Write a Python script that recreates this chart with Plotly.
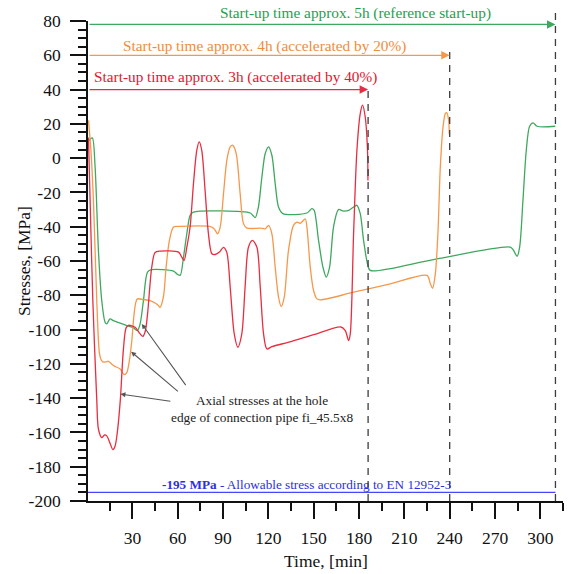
import plotly.graph_objects as go

# Axial stress at the hole edge of connection pipe fi_45.5x8 during three start-up variants
t_3h = [0.9, 2.0, 3.8, 6.4, 7.5, 9.7, 11.5, 13.0, 15.5, 17.0, 18.5, 20.0, 22.0, 24.0, 25.8, 27.4,
        31.8, 35.1, 36.9, 38.5, 40.0, 42.8, 45.0, 48.3, 60.5, 62.7, 64.2, 66.0, 68.2, 70.4,
        72.6, 74.2, 75.9, 78.1, 80.3, 82.6, 84.8, 87.6, 90.3, 92.5, 94.7, 97.4, 99.8, 102.4,
        104.6, 106.8, 109.5, 112.4, 114.6, 116.8, 119.0, 122.3, 135.0, 150.0, 168.0, 170.9,
        173.1, 174.2, 176.4, 178.6, 180.8, 182.3, 184.1, 185.6, 185.9]
s_3h = [12, -25, -83, -141, -158, -163, -161.5, -162, -167, -170, -168, -160, -141, -112, -99, -97.5,
        -98.7, -102.5, -104, -101, -91, -63.6, -55, -54.2, -54.8, -57.8, -59.7, -52, -40, -15,
        4.6, 9.5, 4.6, -18.8, -44, -55.8, -56.2, -54.8, -52, -55, -75, -102.5, -110.3, -102.5,
        -75, -52, -48, -52, -75, -102.5, -111.3, -110, -107, -103, -98.5, -100.6,
        -106.4, -102.5, -44, 4.6, 26, 30.9, 24, 4.6, -13]

t_4h = [0.9, 2.5, 4.2, 6.4, 8.2, 9.5, 10.8, 12.5, 14.1, 17.4, 21.9, 24.5, 26.3, 28.0, 29.6, 31.1,
        32.3, 33.3, 37.3, 41.7, 45.0, 47.2, 48.3, 50.5, 52.3, 54.5, 57.2, 61.6, 82.6, 84.8, 86.3,
        88.1, 90.3, 92.5, 94.7, 96.5, 98.7, 101.3, 103.5, 105.8, 114.6, 117.9, 120.1, 122.3,
        124.5, 126.7, 128.5, 130.5, 133.3, 136.6, 138.9, 141.1, 144.4, 145.5, 147.7, 149.9,
        152.1, 154.3, 176.4, 200.0, 225.0, 227.2, 228.7, 230.5, 232.2, 233.8, 235.6, 237.1,
        238.0, 239.3, 239.7]
s_4h = [22, 5, -24.6, -83, -114, -118, -119, -118.8, -118.5, -121, -123, -126.3, -125, -118, -106.4, -90.8,
        -84, -82.1, -82.5, -83.1, -84.5, -86, -87, -81, -63.6, -48, -40.2, -39.8, -40.2, -42.1, -44.1,
        -40.2, -20.7, -1.2, 6.6, 7.5, 2.7, -20.7, -38.2, -40.8, -40.8, -41.2, -39.2, -44.1,
        -63.6, -81.1, -86.6, -81.1, -53.8, -39.2, -37.3, -38, -35.5, -40.2, -63.6, -77.2,
        -82.1, -82.7, -78.2, -73.5, -68.4, -73.3, -75.9, -67.5, -44.1, -5.2, 18.2, 26,
        26.5, 22.1, 14]

t_5h = [0.9, 2.0, 3.5, 5.3, 7.5, 9.7, 11.9, 13.0, 15.2, 17.4, 21.9, 26.3, 30.7, 33.3, 35.1, 37.3,
        40.0, 42.8, 57.2, 59.4, 61.6, 63.8, 66.0, 68.2, 70.4, 108.0, 109.7, 111.3, 113.4, 115.7,
        117.9, 120.1, 122.3, 124.5, 126.7, 129.6, 145.5, 148.8, 150.3, 153.2, 156.1, 158.3,
        160.5, 163.1, 166.4, 169.7, 173.1, 176.4, 178.6, 180.8, 183.0, 185.6, 187.4, 230.0,
        280.1, 282.3, 284.6, 286.3, 288.5, 290.7, 292.9, 295.2, 297.8, 309.9]
s_5h = [10, 11, 11.8, -5.2, -53.8, -83.1, -95.7, -96.7, -93.8, -94.8, -96.3, -97.7, -99, -100.6, -96.7, -83.1,
        -66.5, -65.1, -65.9, -67.5, -68.4, -57.8, -44.1, -33.4, -31.5, -32, -33.4, -34.7, -28.5, -11,
        2.7, 6.6, 1.7, -14.9, -28.5, -32.4, -32, -29.5, -30.5, -48, -63.6, -69.4,
        -63.6, -40.2, -30, -30.9, -30.5, -28.5, -27.5, -32.4, -48, -61.6, -65.5, -59,
        -51.9, -53.8, -57.3, -51.9, -24.6, 4.6, 18.6, 20.6, 18.6, 18.6]

# Start-up variants: duration [min], arrow level [MPa], caption
startup_end = [186, 240, 310]
startup_level = [40, 60, 78]
startup_top = [42, 62, 85]
startup_text = ["Start-up time approx. 3h (accelerated by 40%)",
                "Start-up time approx. 4h (accelerated by 20%)",
                "Start-up time approx. 5h (reference start-up)"]

allowable_stress = -195
x_ticks = [30, 60, 90, 120, 150, 180, 210, 240, 270, 300]
y_ticks = list(range(-200, 81, 20))
y_tick_text = [str(v) for v in y_ticks]

X_MIN, X_MAX = 0.6, 315
Y_MIN, Y_MAX = -200, 80

line_col = ["rgb(232,45,65)", "rgb(246,152,75)", "rgb(62,168,95)"]
text_col = ["rgb(230,20,45)", "rgb(240,140,60)", "rgb(35,160,80)"]
FONT = "Liberation Serif, Times New Roman, serif"


def to_paper(v):
    return (v - Y_MIN) / (Y_MAX - Y_MIN)


fig = go.Figure()
for t, s, c in zip([t_5h, t_4h, t_3h], [s_5h, s_4h, s_3h], line_col[::-1]):
    fig.add_trace(go.Scatter(x=t, y=s, mode="lines",
                             line=dict(color=c, width=1.3, shape="spline", smoothing=0.8),
                             showlegend=False, hoverinfo="skip"))

# allowable stress limit
fig.add_shape(type="line", xref="x", yref="y", x0=X_MIN, x1=startup_end[-1],
              y0=allowable_stress, y1=allowable_stress, line=dict(color="rgb(70,70,255)", width=1.2))

annotations = []
for end, lvl, top, lc in zip(startup_end, startup_level, startup_top, line_col):
    fig.add_shape(type="line", xref="x", yref="paper", x0=end, x1=end,
                  y0=0, y1=to_paper(top),
                  line=dict(color="rgb(60,60,60)", width=1.3, dash="7px,6px"))
    annotations.append(dict(x=end, y=lvl, ax=X_MIN, ay=lvl, xref="x", yref="y",
                            axref="x", ayref="y", text="", showarrow=True,
                            arrowhead=2, arrowsize=1.3, arrowwidth=1.3, arrowcolor=lc,
                            standoff=0, startstandoff=0))

# captions above the arrows (paper y so the top one may sit above the axis range)
for txt, tc, cx, cy in zip(startup_text, text_col, [97.9, 117.5, 177.8], [47.4, 65.4, 84.5]):
    annotations.append(dict(x=cx, y=to_paper(cy), xref="x", yref="paper", showarrow=False,
                            text=txt, yanchor="middle",
                            font=dict(size=15.3, family=FONT, color=tc)))

annotations.append(dict(x=145.5, y=-190.2, xref="x", yref="y", showarrow=False,
                        text="<b>%d MPa</b> - Allowable stress according to EN 12952-3" % allowable_stress,
                        font=dict(size=13.2, family=FONT, color="rgb(45,45,225)")))

annotations.append(dict(x=115.5, y=-146.5, xref="x", yref="y", showarrow=False,
                        text="Axial stresses at the hole<br>edge of connection pipe fi_45.5x8",
                        font=dict(size=13.3, family=FONT, color="#222")))
for (hx, hy), (tx, ty) in [((36.2, -96.7), (66, -133.3)),
                           ((29.1, -112.9), (61.1, -136.8)),
                           ((22.1, -137.6), (56.1, -141.9))]:
    annotations.append(dict(x=hx, y=hy, ax=tx, ay=ty, xref="x", yref="y", axref="x", ayref="y",
                            text="", showarrow=True, arrowhead=2, arrowsize=0.9,
                            arrowwidth=1.1, arrowcolor="#555", standoff=0))

# axis titles
annotations.append(dict(x=0.5, y=0, xref="paper", yref="paper", yshift=-60, yanchor="middle",
                        text="Time, [min]", showarrow=False,
                        font=dict(size=17.5, family=FONT, color="#111")))
annotations.append(dict(x=0, y=0.5, xref="paper", yref="paper", xshift=-64, xanchor="center",
                        text="Stresses, [MPa]", textangle=-90, showarrow=False,
                        font=dict(size=17.5, family=FONT, color="#111")))

fig.update_layout(
    width=568, height=574,
    margin=dict(l=88, r=5, t=21, b=73),
    paper_bgcolor="white", plot_bgcolor="white",
    font=dict(family=FONT, size=17.5, color="#111"),
    annotations=annotations,
    xaxis=dict(range=[X_MIN, X_MAX], tickvals=x_ticks, ticks="outside", ticklen=16,
               tickwidth=1.5, tickcolor="#111", showline=True, linecolor="#111", linewidth=1.6,
               showgrid=False, zeroline=False, ticklabelstandoff=4,
               minor=dict(tick0=0, dtick=15, ticks="outside", ticklen=8, tickwidth=1.5,
                          tickcolor="#111", showgrid=False)),
    yaxis=dict(range=[Y_MIN, Y_MAX], tickvals=y_ticks, ticktext=y_tick_text, ticks="outside",
               ticklen=16, tickwidth=1.5, tickcolor="#111", showline=True, linecolor="#111",
               linewidth=1.6, showgrid=False, zeroline=False, ticklabelstandoff=6,
               minor=dict(tick0=0, dtick=5, ticks="outside", ticklen=8, tickwidth=1.5,
                          tickcolor="#111", showgrid=False)),
)

fig.write_html("out.html")
